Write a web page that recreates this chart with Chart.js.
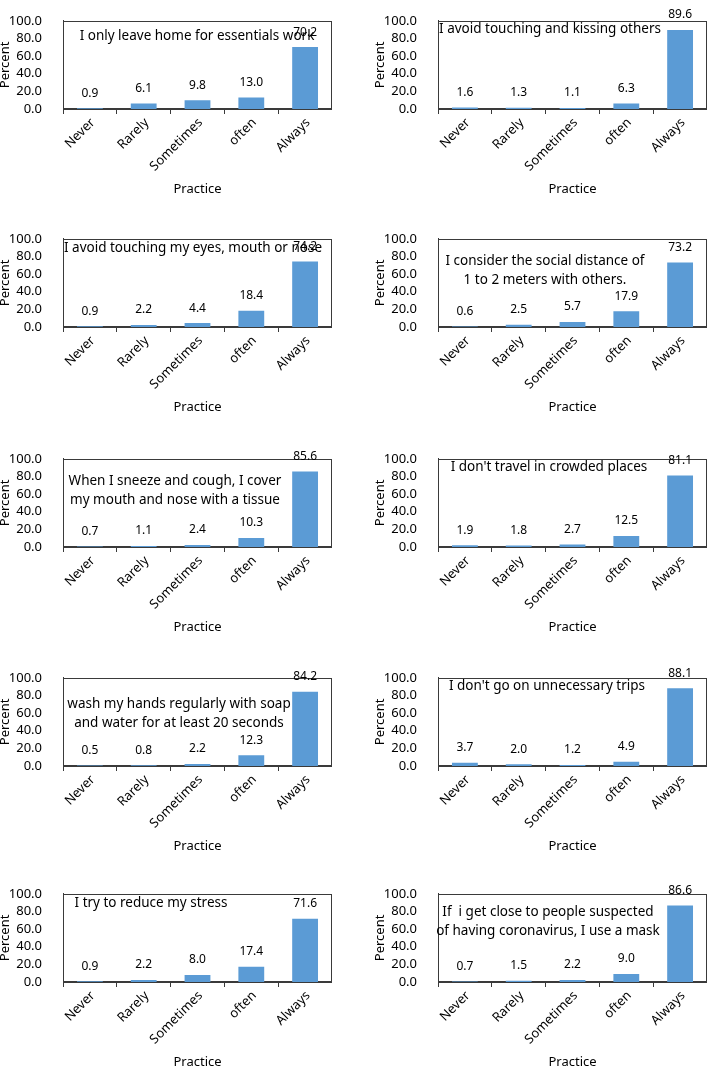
<!DOCTYPE html>
<html>
<head>
<meta charset="utf-8">
<script src="https://cdn.jsdelivr.net/npm/chart.js@4.4.1/dist/chart.umd.min.js"></script>
<style>
  html, body { margin: 0; padding: 0; background: #fff; overflow: hidden; }
  #wrap { position: relative; width: 707px; height: 1067px; }
  .panel { position: absolute; width: 332px; height: 218px; }
</style>
</head>
<body>
<div id="wrap"></div>
<script>
// === data ===
const categories = ["Never", "Rarely", "Sometimes", "often", "Always"];

const leaveHome    = [0.9, 6.1, 9.8, 13.0, 70.2];
const noKissing    = [1.6, 1.3, 1.1, 6.3, 89.6];
const noFaceTouch  = [0.9, 2.2, 4.4, 18.4, 74.2];
const socialDist   = [0.6, 2.5, 5.7, 17.9, 73.2];
const coverSneeze  = [0.7, 1.1, 2.4, 10.3, 85.6];
const noCrowds     = [1.9, 1.8, 2.7, 12.5, 81.1];
const washHands    = [0.5, 0.8, 2.2, 12.3, 84.2];
const noTrips      = [3.7, 2.0, 1.2, 4.9, 88.1];
const lessStress   = [0.9, 2.2, 8.0, 17.4, 71.6];
const useMask      = [0.7, 1.5, 2.2, 9.0, 86.6];

const yTicks = [0, 20, 40, 60, 80, 100];

const notes = [
  ["I only leave home for essentials work"],
  ["I avoid touching and kissing others"],
  ["I avoid touching my eyes, mouth or nose"],
  ["I consider the social distance of", "1 to 2 meters with others."],
  ["When I sneeze and cough, I cover", "my mouth and nose with a tissue"],
  ["I don't travel in crowded places"],
  ["wash my hands regularly with soap", "and water for at least 20 seconds"],
  ["I don't go on unnecessary trips"],
  ["I try to reduce my stress"],
  ["If  i get close to people suspected", "of having coronavirus, I use a mask"]
];

const series = [leaveHome, noKissing, noFaceTouch, socialDist, coverSneeze,
                noCrowds, washHands, noTrips, lessStress, useMask];

// === layout (where each note box sits inside its plot, in px from plot top-left) ===
const notePos = [
  [134, 15], [112, 8], [130, 9], [107, 22], [112, 22],
  [111, 8], [116, 26], [109, 8], [88, 9], [110, 18]
];
const rowTops = [0, 218, 438, 657, 873];
const colLefts = [0, 375];

const ink = "#000";
const lineCol = "#3a3a3a";
Chart.defaults.font.family = "'Noto Sans', sans-serif";
Chart.defaults.color = ink;

const frame = {
  id: "frame",
  afterDatasetsDraw(chart) {
    const a = chart.chartArea, ctx = chart.ctx;
    ctx.save();
    ctx.strokeStyle = lineCol;
    ctx.lineWidth = 1;
    ctx.strokeRect(Math.round(a.left) + 0.5, Math.round(a.top) + 0.5,
                   Math.round(a.right - a.left) - 1, Math.round(a.bottom - a.top));
    ctx.restore();
  }
};

const valueLabels = {
  id: "valueLabels",
  afterDraw(chart, args, opts) {
    const ctx = chart.ctx, a = chart.chartArea;
    const meta = chart.getDatasetMeta(0);
    const vals = chart.data.datasets[0].data;
    ctx.save();
    ctx.fillStyle = ink;
    ctx.textAlign = "center";
    ctx.textBaseline = "middle";
    ctx.font = "12px 'Noto Sans'";
    meta.data.forEach((bar, i) => {
      ctx.fillText(vals[i].toFixed(1), bar.x, bar.y - 15);
    });
    // note text box
    ctx.font = "13.5px 'Noto Sans'";
    const [nx, ny] = opts.pos;
    opts.lines.forEach((ln, j) => {
      ctx.fillText(ln, a.left + nx, a.top + ny + j * 19.5);
    });
    ctx.restore();
  }
};

const wrap = document.getElementById("wrap");
series.forEach((vals, k) => {
  const div = document.createElement("div");
  div.className = "panel";
  div.style.left = colLefts[k % 2] + "px";
  div.style.top = rowTops[Math.floor(k / 2)] + "px";
  const cv = document.createElement("canvas");
  cv.width = 332; cv.height = 218;
  div.appendChild(cv);
  wrap.appendChild(div);

  new Chart(cv.getContext("2d"), {
    type: "bar",
    data: {
      labels: categories,
      datasets: [{
        data: vals,
        backgroundColor: "#5B9BD5",
        categoryPercentage: 1,
        barPercentage: 0.48
      }]
    },
    plugins: [frame, valueLabels],
    options: {
      responsive: false,
      animation: false,
      devicePixelRatio: 1,
      layout: { padding: { top: 9, bottom: 21, left: 0, right: 0 } },
      plugins: {
        legend: { display: false },
        tooltip: { enabled: false },
        valueLabels: { lines: notes[k], pos: notePos[k] }
      },
      scales: {
        x: {
          grid: { offset: true, drawOnChartArea: false, drawTicks: true, tickLength: 5, color: lineCol },
          border: { color: lineCol },
          ticks: { font: { size: 13 }, minRotation: 45, maxRotation: 45, autoSkip: false, padding: 1, labelOffset: 3 },
          title: { display: true, text: "Practice", font: { size: 13 }, padding: { top: 0, bottom: 0 } },
          afterFit(s) { s.height = 88; }
        },
        y: {
          min: 0, max: 100,
          afterBuildTicks(s) { s.ticks = yTicks.map(v => ({ value: v })); },
          grid: { display: false },
          border: { color: lineCol },
          ticks: { font: { size: 13 }, padding: 13, autoSkip: false, callback: v => Number(v).toFixed(1) },
          title: { display: true, text: "Percent", font: { size: 13 }, padding: { top: -3, bottom: 0 } },
          afterFit(s) { s.width = 63; }
        }
      }
    }
  });
});
</script>
</body>
</html>
